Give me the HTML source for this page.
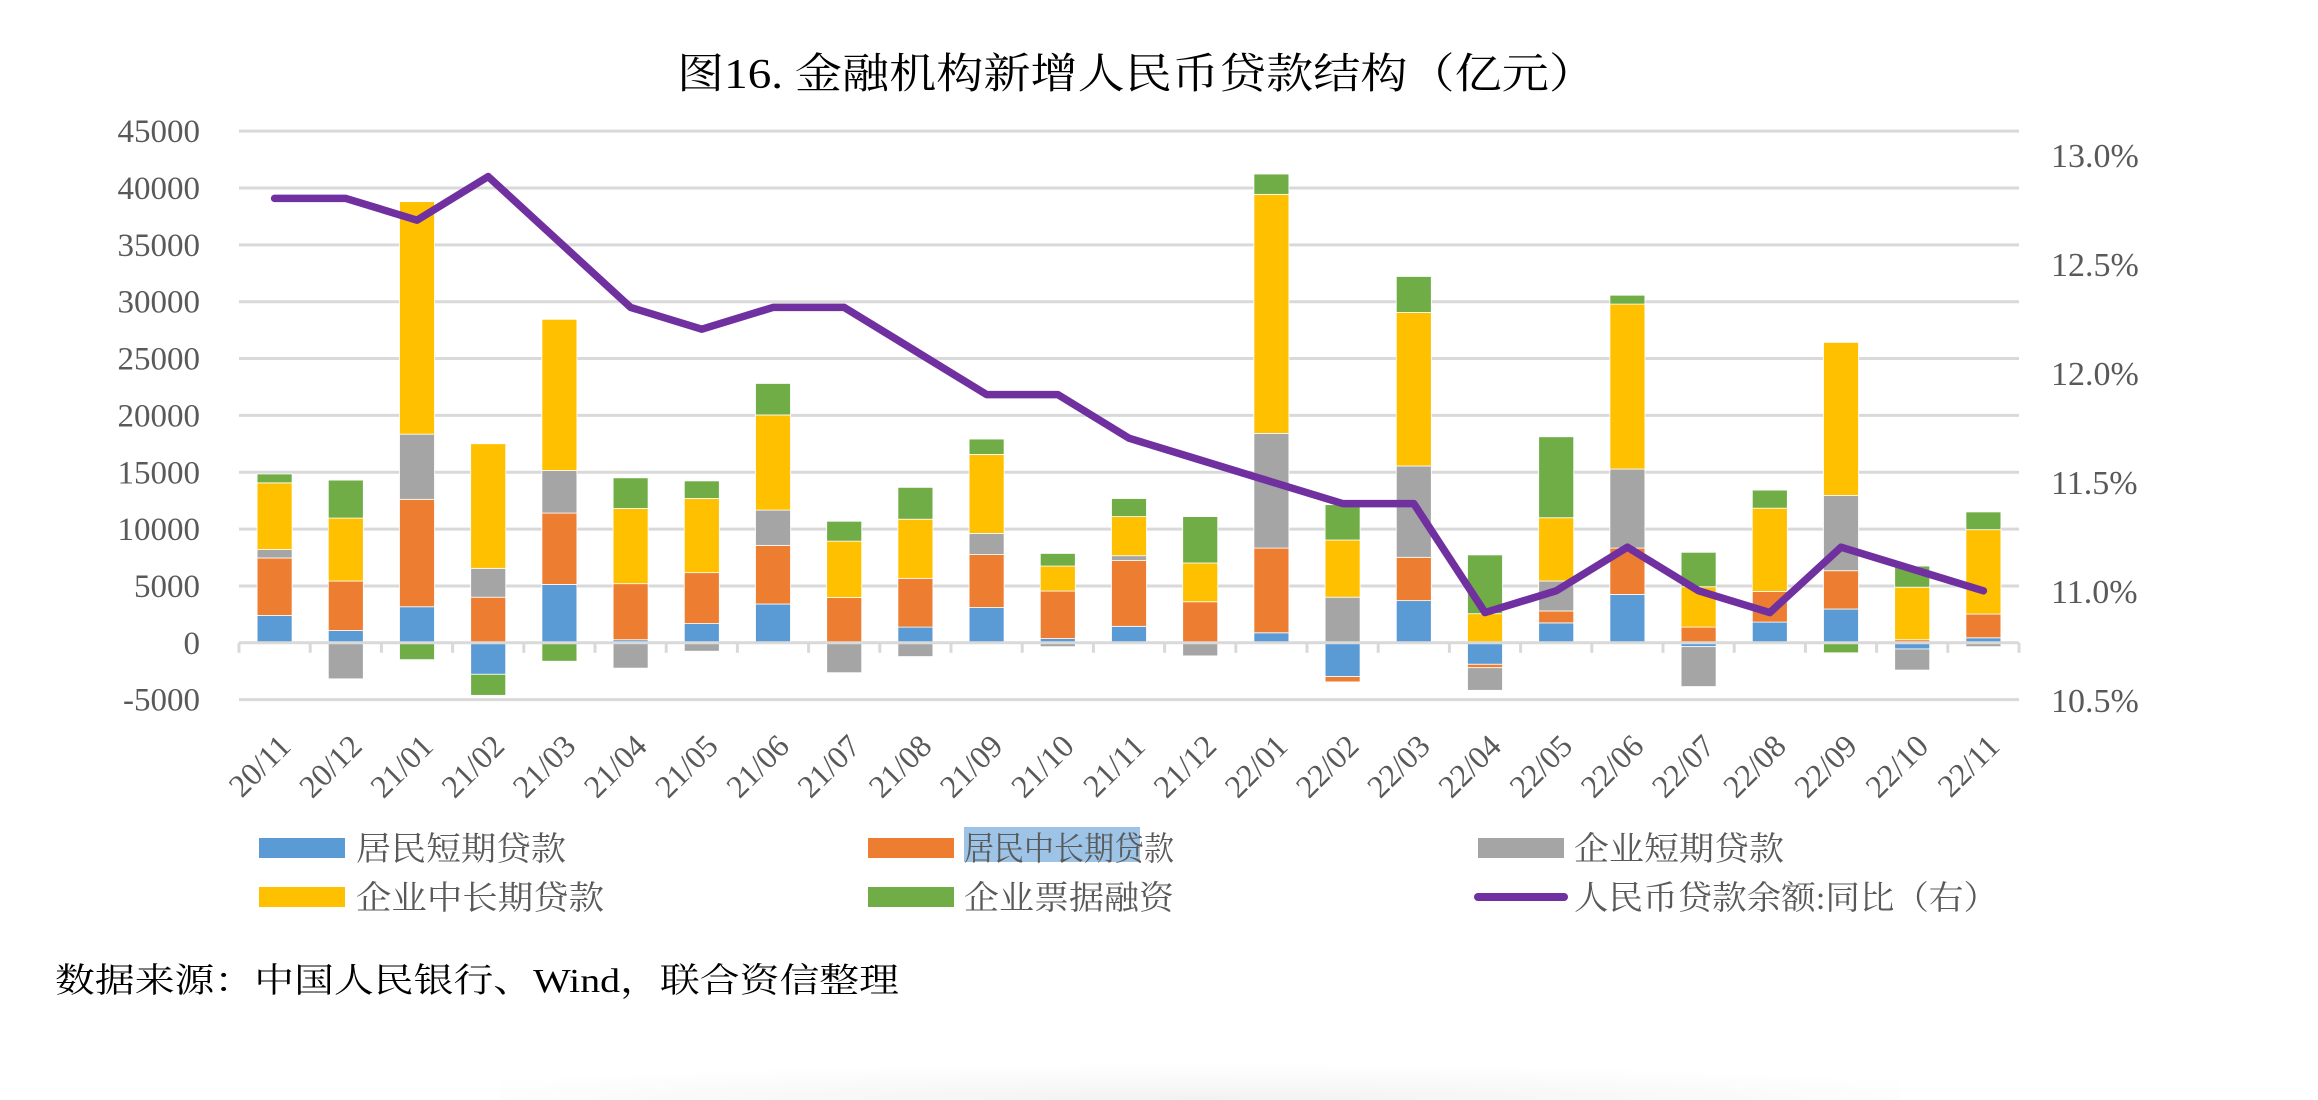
<!DOCTYPE html>
<html><head><meta charset="utf-8"><style>
html,body{margin:0;padding:0;background:#fff;}
svg{display:block;}
</style></head><body>
<svg id="chart" width="2318" height="1100" viewBox="0 0 2318 1100" xmlns="http://www.w3.org/2000/svg">
<defs><radialGradient id="fade" cx="0.5" cy="1" r="0.6"><stop offset="0" stop-color="#f2f2f2"/><stop offset="1" stop-color="#ffffff"/></radialGradient></defs>
<rect x="0" y="0" width="2318" height="1100" fill="#fff"/>
<rect x="500" y="1040" width="1400" height="60" fill="url(#fade)"/>
<text x="677" y="88" textLength="919" lengthAdjust="spacingAndGlyphs" font-family="Liberation Serif, Noto Serif CJK SC, serif" font-size="42" fill="#000">图16.  金融机构新增人民币贷款结构（亿元）</text>
<g id="grid"></g><g id="bars"></g><g id="axes"></g><g id="line"></g><g id="labels"></g>
<g>
 <rect x="964" y="827" width="176" height="35" fill="#9dc3e6"/>
 <rect x="259" y="838" width="86" height="20" fill="#5b9bd5"/>
 <text x="356" y="860" textLength="210" lengthAdjust="spacingAndGlyphs" font-family="Liberation Serif, Noto Serif CJK SC, serif" font-size="33" fill="#595959">居民短期贷款</text>
 <rect x="868" y="838" width="86" height="20" fill="#ed7d31"/>
 <text x="964" y="860" textLength="210" lengthAdjust="spacingAndGlyphs" font-family="Liberation Serif, Noto Serif CJK SC, serif" font-size="33" fill="#595959">居民中长期贷款</text>
 <rect x="1478" y="838" width="86" height="20" fill="#a5a5a5"/>
 <text x="1574" y="860" textLength="210" lengthAdjust="spacingAndGlyphs" font-family="Liberation Serif, Noto Serif CJK SC, serif" font-size="33" fill="#595959">企业短期贷款</text>
 <rect x="259" y="887" width="86" height="20" fill="#ffc000"/>
 <text x="356" y="909" textLength="248" lengthAdjust="spacingAndGlyphs" font-family="Liberation Serif, Noto Serif CJK SC, serif" font-size="33" fill="#595959">企业中长期贷款</text>
 <rect x="868" y="887" width="86" height="20" fill="#70ad47"/>
 <text x="964" y="909" textLength="210" lengthAdjust="spacingAndGlyphs" font-family="Liberation Serif, Noto Serif CJK SC, serif" font-size="33" fill="#595959">企业票据融资</text>
 <line x1="1478" y1="897" x2="1564" y2="897" stroke="#7030a0" stroke-width="8" stroke-linecap="round"/>
 <text x="1574" y="909" textLength="424" lengthAdjust="spacingAndGlyphs" font-family="Liberation Serif, Noto Serif CJK SC, serif" font-size="33" fill="#595959">人民币贷款余额:同比（右）</text>
</g>
<text x="55" y="992" textLength="844" lengthAdjust="spacingAndGlyphs" font-family="Liberation Serif, Noto Serif CJK SC, serif" font-size="34" fill="#000">数据来源：中国人民银行、Wind，联合资信整理</text>
</svg>
<script>
const categories = ["20/11","20/12","21/01","21/02","21/03","21/04","21/05","21/06","21/07","21/08","21/09","21/10","21/11","21/12","22/01","22/02","22/03","22/04","22/05","22/06","22/07","22/08","22/09","22/10","22/11"];
const householdShort = [2400,1080,3170,-2770,5130,270,1690,3410,0,1380,3100,370,1450,0,880,-2970,3710,-1890,1750,4250,-340,1820,2970,-540,440];
const householdLong = [5060,4350,9450,4010,6280,4930,4480,5160,3980,4290,4660,4180,5800,3610,7450,-470,3810,-300,1050,4080,1380,2700,3370,270,2090];
const corpShort = [740,-3170,5730,2540,3740,-2230,-740,3100,-2630,-1210,1860,-340,410,-1150,10090,4010,8030,-1990,2630,6950,-3510,0,6620,-1860,-340];
const corpLong = [5870,5540,20450,10960,13300,6610,6520,8370,4960,5200,6950,2200,3440,3410,21020,5030,13500,2560,5570,14510,3550,7320,13460,4620,7420];
const billFinance = [780,3340,-1480,-1850,-1620,2700,1550,2770,1750,2800,1350,1110,1590,4080,1790,3110,3170,5170,7120,780,3030,1590,-880,1860,1560];
const yoyGrowth = [12.8,12.8,12.7,12.9,12.6,12.3,12.2,12.3,12.3,12.1,11.9,11.9,11.7,11.6,11.5,11.4,11.4,10.9,11.0,11.2,11.0,10.9,11.2,11.1,11.0];
const leftTicks = [-5000,0,5000,10000,15000,20000,25000,30000,35000,40000,45000];
const rightTicks = [10.5,11.0,11.5,12.0,12.5,13.0];

const NS="http://www.w3.org/2000/svg";
const X0=239, X1=2019, Y0=642.8, PER=56.85/5000;
const step=(X1-X0)/categories.length, barW=35;
const yL=v=>Y0-v*PER;
const yR=v=>699.8-(v-10.5)*218;
const xC=i=>X0+step*(i+0.5);
function mk(tag,attrs,parent){const e=document.createElementNS(NS,tag);for(const k in attrs)e.setAttribute(k,attrs[k]);parent.appendChild(e);return e;}
const grid=document.getElementById('grid'),bars=document.getElementById('bars'),axes=document.getElementById('axes'),line=document.getElementById('line'),labels=document.getElementById('labels');
leftTicks.forEach(t=>{
  if(t!==0){const g=mk('line',{x1:X0,x2:X1,y1:yL(t),y2:yL(t),stroke:'#d9d9d9','stroke-width':3},grid);
  
  }
  const tx=mk('text',{x:200,y:yL(t)+11,'text-anchor':'end','font-family':'Liberation Serif, serif','font-size':33,fill:'#595959'},labels);
  tx.textContent=t;
  
  
});
rightTicks.forEach(t=>{
  const tx=mk('text',{x:2051,y:yR(t)+12,'font-family':'Liberation Serif, serif','font-size':34,fill:'#595959'},labels);
  tx.textContent=t.toFixed(1)+'%';
  
  
});
const series=[[householdShort,'#5b9bd5','household-short'],[householdLong,'#ed7d31','household-long'],[corpShort,'#a5a5a5','corp-short'],[corpLong,'#ffc000','corp-long'],[billFinance,'#70ad47','bill-finance']];
categories.forEach((c,i)=>{
  let pos=0,neg=0;
  series.forEach(([arr,col,nm])=>{
    const v=arr[i]; if(!v) return;
    let a,b; if(v>0){a=pos;b=pos+v;pos=b;}else{a=neg;b=neg+v;neg=b;}
    const yt=Math.min(yL(a),yL(b)),h=Math.abs(yL(a)-yL(b));
    const r=mk('rect',{x:xC(i)-barW/2,y:yt,width:barW,height:h,fill:col,stroke:'#fff','stroke-width':0.8},bars);
    
    
  });
  const tx=mk('text',{x:xC(i)+18,y:748,'text-anchor':'end','font-family':'Liberation Serif, serif','font-size':32,fill:'#595959',transform:`rotate(-45 ${xC(i)+18} 748)`},labels);
  tx.textContent=c;
  
  
});
const ax=mk('line',{x1:X0,x2:X1,y1:Y0,y2:Y0,stroke:'#d9d9d9','stroke-width':3},axes);


for(let i=0;i<=categories.length;i++){
  const tk=mk('line',{x1:X0+step*i,x2:X0+step*i,y1:Y0,y2:Y0+10,stroke:'#d9d9d9','stroke-width':3},axes);
  
  
}
const pts=yoyGrowth.map((v,i)=>xC(i).toFixed(1)+','+yR(v).toFixed(1)).join(' ');
const pl=mk('polyline',{points:pts,fill:'none',stroke:'#7030a0','stroke-width':7.5,'stroke-linejoin':'round','stroke-linecap':'round'},line);


</script>
</body></html>
